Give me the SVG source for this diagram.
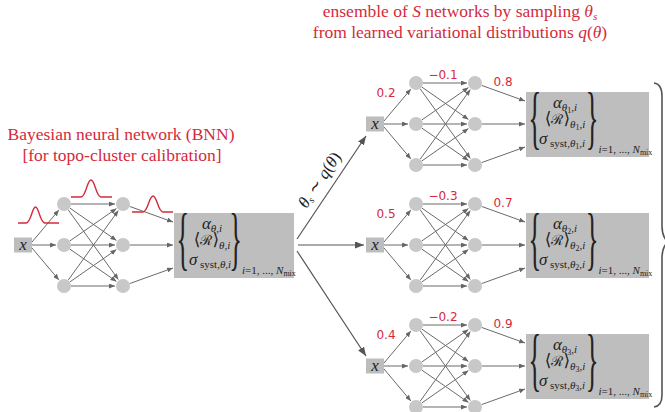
<svg xmlns="http://www.w3.org/2000/svg" width="665" height="412" viewBox="0 0 665 412">
<defs>
<marker id="ah" viewBox="0 0 6 5" refX="6" refY="2.5" markerWidth="6" markerHeight="5" markerUnits="userSpaceOnUse" orient="auto"><path d="M0,0 L6,2.5 L0,5 z" fill="#666"/></marker>
<marker id="ahb" viewBox="0 0 9 7" refX="9" refY="3.5" markerWidth="9" markerHeight="7" markerUnits="userSpaceOnUse" orient="auto"><path d="M0,0 L9,3.5 L0,7 z" fill="#555"/></marker>
</defs>
<style>
.red{fill:#d42a3c;font-family:"Liberation Serif","DejaVu Serif",serif;font-size:17.5px}
.w{fill:#d42a3c;font-family:"DejaVu Sans",sans-serif;font-size:12px;text-anchor:middle}
.node{fill:#c8c8c8}
.xbox{fill:#bdbdbd}
.obox{fill:#bebebe}
.edge{stroke:#6a6a6a;stroke-width:1;fill:none;marker-end:url(#ah)}
.big{stroke:#555;stroke-width:1.2;fill:none;marker-end:url(#ahb)}
.math{font-family:"Liberation Serif","DejaVu Serif",serif;fill:#222;font-size:17px}
.xl{font-family:"Liberation Serif","DejaVu Serif",serif;fill:#222;font-size:17px;font-style:italic;text-anchor:middle}
.br{font-family:"Liberation Serif","DejaVu Serif",serif;fill:#222;font-size:48px}
.gauss{fill:none;stroke:#d42a3c;stroke-width:1.4}
.i{font-style:italic}
.s{font-size:11px}
.ss{font-size:8px}
.R{font-family:"DejaVu Serif",serif;font-size:14px}
</style>

<!-- titles -->
<text class="red" x="121" y="140" text-anchor="middle">Bayesian neural network (BNN)</text>
<text class="red" x="122" y="161" text-anchor="middle">[for topo-cluster calibration]</text>
<text class="red" x="460" y="17" text-anchor="middle">ensemble of <tspan class="i">S</tspan> networks by sampling <tspan class="i">θ</tspan><tspan class="i" font-size="11" dy="3">s</tspan></text>
<text class="red" x="460" y="38" text-anchor="middle">from learned variational distributions <tspan class="i">q</tspan>(<tspan class="i">θ</tspan>)</text>

<!-- Left BNN -->
<g id="bnn" transform="translate(23,245)">
  <g id="bnn-edges">
    <path class="edge" d="M9,-3 L35.85,-34.9"/>
    <path class="edge" d="M9,0 L33,0"/>
    <path class="edge" d="M9,3 L35.85,34.9"/>
    <path class="edge" d="M48,-41 L92,-41"/>
    <path class="edge" d="M48,0 L92,0"/>
    <path class="edge" d="M48,41 L92,41"/>
    <path class="edge" d="M46.75,-37 L93.43,-4.57"/>
    <path class="edge" d="M46.75,4 L93.43,36.43"/>
    <path class="edge" d="M46.75,-4 L93.43,-36.43"/>
    <path class="edge" d="M46.75,37 L93.43,4.57"/>
    <path class="edge" d="M45.09,-35.32 L95.33,34.5"/>
    <path class="edge" d="M45.09,35.32 L95.33,-34.5"/>
    <path class="edge" d="M106.6,-38.6 L150,-23"/>
    <path class="edge" d="M107,0 L150,0"/>
    <path class="edge" d="M106.6,38.6 L150,23"/>
  </g>
  <g id="bnn-x"><rect class="xbox" x="-9" y="-7.5" width="18" height="15"/><text class="xl" x="0" y="4.5">x</text></g>
  <g id="bnn-h1a"><circle class="node" cx="41" cy="-41" r="7"/></g>
  <g id="bnn-h1b"><circle class="node" cx="41" cy="0" r="7"/></g>
  <g id="bnn-h1c"><circle class="node" cx="41" cy="41" r="7"/></g>
  <g id="bnn-h2a"><circle class="node" cx="100" cy="-41" r="7"/></g>
  <g id="bnn-h2b"><circle class="node" cx="100" cy="0" r="7"/></g>
  <g id="bnn-h2c"><circle class="node" cx="100" cy="41" r="7"/></g>
  <g id="bnn-out">
    <rect class="obox" x="151" y="-32" width="120" height="65"/>
    <text class="br" transform="translate(153.5,16.5) scale(0.55,1.45)">{</text>
    <text class="br" text-anchor="end" transform="translate(219,16.5) scale(0.55,1.45)">}</text>
    <text class="math" x="189" y="-16.5" text-anchor="middle"><tspan class="i">α</tspan><tspan class="s i" dy="3">θ</tspan><tspan class="s">,</tspan><tspan class="s i">i</tspan></text>
    <text class="math" x="189" y="0" text-anchor="middle">⟨<tspan class="R">ℛ</tspan>⟩<tspan class="s i" dy="4">θ</tspan><tspan class="s">,</tspan><tspan class="s i">i</tspan></text>
    <text class="math" x="187" y="20" text-anchor="middle"><tspan class="i">σ</tspan><tspan class="s" dy="3"> syst,</tspan><tspan class="s i">θ</tspan><tspan class="s">,</tspan><tspan class="s i">i</tspan></text>
    <text class="math s" x="219" y="29"><tspan class="i">i</tspan>=1, ..., <tspan class="i">N</tspan><tspan class="ss" dy="2">mix</tspan></text>
  </g>
</g>
<g id="gaussians">
  <path class="gauss" d="M18,223 L26,223 C31,223 32,207 35.5,207 C39,207 40,223 45,223 L59,223"/>
  <path class="gauss" d="M71,197 L81,197 C86,197 87,180 91,180 C95,180 96,197 101,197 L112,197"/>
  <path class="gauss" d="M132,212 L143,212 C148,212 149,196 153,196 C157,196 158,212 163,212 L173,212"/>
</g>

<!-- sampling arrows -->
<g id="sampling">
  <path class="big" d="M297,239 L366,136"/>
  <path class="big" d="M298,245 L364,245"/>
  <path class="big" d="M297,251 L366,356"/>
  <text class="math" font-size="14" text-anchor="middle" transform="translate(324,183) rotate(-56.2)"><tspan class="i">θ</tspan><tspan class="i" font-size="10" dy="2">s</tspan><tspan dy="-2"> ∼ </tspan><tspan class="i">q</tspan>(<tspan class="i">θ</tspan>)</text>
</g>

<!-- Network 1 -->
<g id="net1" transform="translate(375,124)">
  <g id="net1-edges">
    <path class="edge" d="M9,-3 L35.85,-34.9"/>
    <path class="edge" d="M9,0 L33,0"/>
    <path class="edge" d="M9,3 L35.85,34.9"/>
    <path class="edge" d="M48,-41 L92,-41"/>
    <path class="edge" d="M48,0 L92,0"/>
    <path class="edge" d="M48,41 L92,41"/>
    <path class="edge" d="M46.75,-37 L93.43,-4.57"/>
    <path class="edge" d="M46.75,4 L93.43,36.43"/>
    <path class="edge" d="M46.75,-4 L93.43,-36.43"/>
    <path class="edge" d="M46.75,37 L93.43,4.57"/>
    <path class="edge" d="M45.09,-35.32 L95.33,34.5"/>
    <path class="edge" d="M45.09,35.32 L95.33,-34.5"/>
    <path class="edge" d="M106.6,-38.6 L150,-23"/>
    <path class="edge" d="M107,0 L150,0"/>
    <path class="edge" d="M106.6,38.6 L150,23"/>
  </g>
  <g id="net1-weights"><text class="w" x="11" y="-27">0.2</text><text class="w" x="68" y="-45">−0.1</text><text class="w" x="128" y="-38">0.8</text></g>
  <g id="net1-x"><rect class="xbox" x="-9" y="-7.5" width="18" height="15"/><text class="xl" x="0" y="4.5">x</text></g>
  <g id="net1-h1a"><circle class="node" cx="41" cy="-41" r="7"/></g>
  <g id="net1-h1b"><circle class="node" cx="41" cy="0" r="7"/></g>
  <g id="net1-h1c"><circle class="node" cx="41" cy="41" r="7"/></g>
  <g id="net1-h2a"><circle class="node" cx="100" cy="-41" r="7"/></g>
  <g id="net1-h2b"><circle class="node" cx="100" cy="0" r="7"/></g>
  <g id="net1-h2c"><circle class="node" cx="100" cy="41" r="7"/></g>
  <g id="net1-out">
    <rect class="obox" x="151" y="-32" width="123" height="65"/>
    <text class="br" transform="translate(153.5,16.5) scale(0.55,1.45)">{</text>
    <text class="br" text-anchor="end" transform="translate(223.5,16.5) scale(0.55,1.45)">}</text>
    <text class="math" x="190" y="-16.5" text-anchor="middle"><tspan class="i">α</tspan><tspan class="s i" dy="3">θ</tspan><tspan class="ss" dy="2">1</tspan><tspan class="s" dy="-2">,</tspan><tspan class="s i">i</tspan></text>
    <text class="math" x="190" y="0" text-anchor="middle">⟨<tspan class="R">ℛ</tspan>⟩<tspan class="s i" dy="4">θ</tspan><tspan class="ss" dy="2">1</tspan><tspan class="s" dy="-2">,</tspan><tspan class="s i">i</tspan></text>
    <text class="math" x="187" y="20" text-anchor="middle"><tspan class="i">σ</tspan><tspan class="s" dy="3"> syst,</tspan><tspan class="s i">θ</tspan><tspan class="ss" dy="2">1</tspan><tspan class="s" dy="-2">,</tspan><tspan class="s i">i</tspan></text>
    <text class="math s" x="223.5" y="29"><tspan class="i">i</tspan>=1, ..., <tspan class="i">N</tspan><tspan class="ss" dy="2">mix</tspan></text>
  </g>
</g>

<!-- Network 2 -->
<g id="net2" transform="translate(375,245)">
  <g id="net2-edges">
    <path class="edge" d="M9,-3 L35.85,-34.9"/>
    <path class="edge" d="M9,0 L33,0"/>
    <path class="edge" d="M9,3 L35.85,34.9"/>
    <path class="edge" d="M48,-41 L92,-41"/>
    <path class="edge" d="M48,0 L92,0"/>
    <path class="edge" d="M48,41 L92,41"/>
    <path class="edge" d="M46.75,-37 L93.43,-4.57"/>
    <path class="edge" d="M46.75,4 L93.43,36.43"/>
    <path class="edge" d="M46.75,-4 L93.43,-36.43"/>
    <path class="edge" d="M46.75,37 L93.43,4.57"/>
    <path class="edge" d="M45.09,-35.32 L95.33,34.5"/>
    <path class="edge" d="M45.09,35.32 L95.33,-34.5"/>
    <path class="edge" d="M106.6,-38.6 L150,-23"/>
    <path class="edge" d="M107,0 L150,0"/>
    <path class="edge" d="M106.6,38.6 L150,23"/>
  </g>
  <g id="net2-weights"><text class="w" x="11" y="-27">0.5</text><text class="w" x="68" y="-45">−0.3</text><text class="w" x="128" y="-38">0.7</text></g>
  <g id="net2-x"><rect class="xbox" x="-9" y="-7.5" width="18" height="15"/><text class="xl" x="0" y="4.5">x</text></g>
  <g id="net2-h1a"><circle class="node" cx="41" cy="-41" r="7"/></g>
  <g id="net2-h1b"><circle class="node" cx="41" cy="0" r="7"/></g>
  <g id="net2-h1c"><circle class="node" cx="41" cy="41" r="7"/></g>
  <g id="net2-h2a"><circle class="node" cx="100" cy="-41" r="7"/></g>
  <g id="net2-h2b"><circle class="node" cx="100" cy="0" r="7"/></g>
  <g id="net2-h2c"><circle class="node" cx="100" cy="41" r="7"/></g>
  <g id="net2-out">
    <rect class="obox" x="151" y="-32" width="123" height="65"/>
    <text class="br" transform="translate(153.5,16.5) scale(0.55,1.45)">{</text>
    <text class="br" text-anchor="end" transform="translate(223.5,16.5) scale(0.55,1.45)">}</text>
    <text class="math" x="190" y="-16.5" text-anchor="middle"><tspan class="i">α</tspan><tspan class="s i" dy="3">θ</tspan><tspan class="ss" dy="2">2</tspan><tspan class="s" dy="-2">,</tspan><tspan class="s i">i</tspan></text>
    <text class="math" x="190" y="0" text-anchor="middle">⟨<tspan class="R">ℛ</tspan>⟩<tspan class="s i" dy="4">θ</tspan><tspan class="ss" dy="2">2</tspan><tspan class="s" dy="-2">,</tspan><tspan class="s i">i</tspan></text>
    <text class="math" x="187" y="20" text-anchor="middle"><tspan class="i">σ</tspan><tspan class="s" dy="3"> syst,</tspan><tspan class="s i">θ</tspan><tspan class="ss" dy="2">2</tspan><tspan class="s" dy="-2">,</tspan><tspan class="s i">i</tspan></text>
    <text class="math s" x="223.5" y="29"><tspan class="i">i</tspan>=1, ..., <tspan class="i">N</tspan><tspan class="ss" dy="2">mix</tspan></text>
  </g>
</g>

<!-- Network 3 -->
<g id="net3" transform="translate(375,366)">
  <g id="net3-edges">
    <path class="edge" d="M9,-3 L35.85,-34.9"/>
    <path class="edge" d="M9,0 L33,0"/>
    <path class="edge" d="M9,3 L35.85,34.9"/>
    <path class="edge" d="M48,-41 L92,-41"/>
    <path class="edge" d="M48,0 L92,0"/>
    <path class="edge" d="M48,41 L92,41"/>
    <path class="edge" d="M46.75,-37 L93.43,-4.57"/>
    <path class="edge" d="M46.75,4 L93.43,36.43"/>
    <path class="edge" d="M46.75,-4 L93.43,-36.43"/>
    <path class="edge" d="M46.75,37 L93.43,4.57"/>
    <path class="edge" d="M45.09,-35.32 L95.33,34.5"/>
    <path class="edge" d="M45.09,35.32 L95.33,-34.5"/>
    <path class="edge" d="M106.6,-38.6 L150,-23"/>
    <path class="edge" d="M107,0 L150,0"/>
    <path class="edge" d="M106.6,38.6 L150,23"/>
  </g>
  <g id="net3-weights"><text class="w" x="11" y="-27">0.4</text><text class="w" x="68" y="-45">−0.2</text><text class="w" x="128" y="-38">0.9</text></g>
  <g id="net3-x"><rect class="xbox" x="-9" y="-7.5" width="18" height="15"/><text class="xl" x="0" y="4.5">x</text></g>
  <g id="net3-h1a"><circle class="node" cx="41" cy="-41" r="7"/></g>
  <g id="net3-h1b"><circle class="node" cx="41" cy="0" r="7"/></g>
  <g id="net3-h1c"><circle class="node" cx="41" cy="41" r="7"/></g>
  <g id="net3-h2a"><circle class="node" cx="100" cy="-41" r="7"/></g>
  <g id="net3-h2b"><circle class="node" cx="100" cy="0" r="7"/></g>
  <g id="net3-h2c"><circle class="node" cx="100" cy="41" r="7"/></g>
  <g id="net3-out">
    <rect class="obox" x="151" y="-32" width="123" height="65"/>
    <text class="br" transform="translate(153.5,16.5) scale(0.55,1.45)">{</text>
    <text class="br" text-anchor="end" transform="translate(223.5,16.5) scale(0.55,1.45)">}</text>
    <text class="math" x="190" y="-16.5" text-anchor="middle"><tspan class="i">α</tspan><tspan class="s i" dy="3">θ</tspan><tspan class="ss" dy="2">3</tspan><tspan class="s" dy="-2">,</tspan><tspan class="s i">i</tspan></text>
    <text class="math" x="190" y="0" text-anchor="middle">⟨<tspan class="R">ℛ</tspan>⟩<tspan class="s i" dy="4">θ</tspan><tspan class="ss" dy="2">3</tspan><tspan class="s" dy="-2">,</tspan><tspan class="s i">i</tspan></text>
    <text class="math" x="187" y="20" text-anchor="middle"><tspan class="i">σ</tspan><tspan class="s" dy="3"> syst,</tspan><tspan class="s i">θ</tspan><tspan class="ss" dy="2">3</tspan><tspan class="s" dy="-2">,</tspan><tspan class="s i">i</tspan></text>
    <text class="math s" x="223.5" y="29"><tspan class="i">i</tspan>=1, ..., <tspan class="i">N</tspan><tspan class="ss" dy="2">mix</tspan></text>
  </g>
</g>

<!-- big ensemble brace -->
<path id="ensemble-brace" d="M654,83 Q662,84 662,96 L662,226 Q662,237 668,242 Q662,247 662,258 L662,395 Q662,406 654,407" fill="none" stroke="#555" stroke-width="1.6"/>
</svg>
